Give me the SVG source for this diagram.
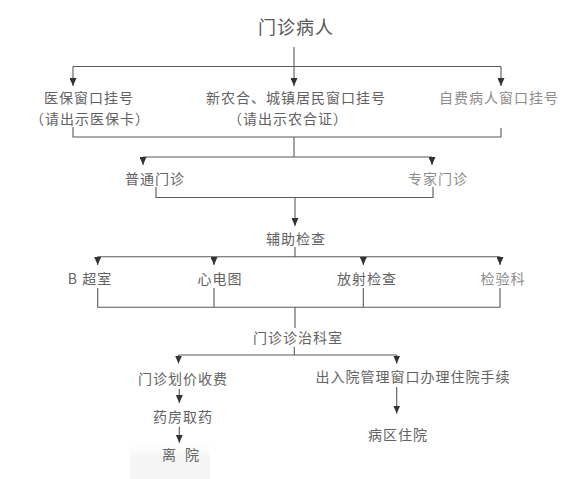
<svg xmlns="http://www.w3.org/2000/svg" width="582" height="479" viewBox="0 0 582 479">
<defs>
<style>
text{font-family:"Noto Sans CJK SC","Noto Sans",sans-serif;font-size:14px;fill:#626262;text-anchor:middle;letter-spacing:1px}
.title{font-size:18px;fill:#585858}
.light{fill:#8c8c8c}
.ln{stroke:#5a5a5a;stroke-width:1.1;fill:none}
.arr{marker-end:url(#ah)}
</style>
<marker id="ah" markerUnits="userSpaceOnUse" markerWidth="8" markerHeight="7" refX="8" refY="3.5" orient="auto" viewBox="0 0 8 7">
<path d="M0,0 L8,3.5 L0,7 Z" fill="#333"/>
</marker>
<linearGradient id="bg" x1="0" y1="0" x2="0" y2="1">
<stop offset="0" stop-color="#f8f8f8" stop-opacity="0"/>
<stop offset="0.4" stop-color="#f5f5f5"/>
<stop offset="1" stop-color="#f6f6f6"/>
</linearGradient>
</defs>
<rect width="582" height="479" fill="#fff"/>
<rect x="130" y="444" width="80" height="35" fill="url(#bg)"/>
<g id="connectors">
<path class="ln" d="M294,47 V66.5 M73,66.5 H501"/>
<path class="ln arr" d="M294,66.5 V86"/>
<path class="ln arr" d="M73,66.5 V86"/>
<path class="ln arr" d="M501,66.5 V86"/>
<path class="ln" d="M73,127 V137 H501 V128 M294,137 V157 M143,157 H432"/>
<path class="ln arr" d="M143,157 V165"/>
<path class="ln arr" d="M432,157 V165"/>
<path class="ln" d="M156,187 V197.5 H433 V187"/>
<path class="ln arr" d="M295,197.5 V226"/>
<path class="ln" d="M295,247 V256.7 M97.7,256.7 H500"/>
<path class="ln arr" d="M97.7,256.7 V265"/>
<path class="ln arr" d="M214,256.7 V265"/>
<path class="ln arr" d="M363.3,256.7 V265"/>
<path class="ln arr" d="M500,256.7 V265"/>
<path class="ln" d="M97.7,288 V307.3 H500 V288 M214,288 V307.3 M363.3,288 V307.3 M295,307.3 V328"/>
<path class="ln" d="M294.3,346.7 V355 M178.5,355 H396.7"/>
<path class="ln arr" d="M178.5,355 V363.5"/>
<path class="ln arr" d="M396.7,355 V363.5"/>
<path class="ln arr" d="M179.3,389 V403"/>
<path class="ln arr" d="M179.3,426.7 V442.7"/>
<path class="ln arr" d="M396.7,387 V413.5"/>
</g>
<g id="n-patient"><text class="title" x="296" y="34">门诊病人</text></g>
<g id="n-yibao"><text x="89" y="103">医保窗口挂号</text><text x="90" y="124">（请出示医保卡）</text></g>
<g id="n-xinnonghe"><text x="296" y="103">新农合、城镇居民窗口挂号</text><text x="288" y="124">（请出示农合证）</text></g>
<g id="n-zifei"><text class="light" x="499" y="103">自费病人窗口挂号</text></g>
<g id="n-putong"><text x="155" y="183.5">普通门诊</text></g>
<g id="n-zhuanjia"><text class="light" x="438" y="183.5">专家门诊</text></g>
<g id="n-fuzhu"><text x="296" y="243.5">辅助检查</text></g>
<g id="n-bchao"><text x="90" y="283.5">B 超室</text></g>
<g id="n-xindian"><text x="220" y="283.5">心电图</text></g>
<g id="n-fangshe"><text x="367" y="283.5">放射检查</text></g>
<g id="n-jianyan"><text class="light" x="503" y="283.5">检验科</text></g>
<g id="n-zhenzhi"><text x="298" y="343">门诊诊治科室</text></g>
<g id="n-shoufei"><text x="183" y="384">门诊划价收费</text></g>
<g id="n-ruyuan"><text x="413" y="382">出入院管理窗口办理住院手续</text></g>
<g id="n-quyao"><text x="183" y="422">药房取药</text></g>
<g id="n-liyuan"><text x="182" y="460" style="letter-spacing:3px">离 院</text></g>
<g id="n-bingqu"><text x="398" y="440">病区住院</text></g>
</svg>
